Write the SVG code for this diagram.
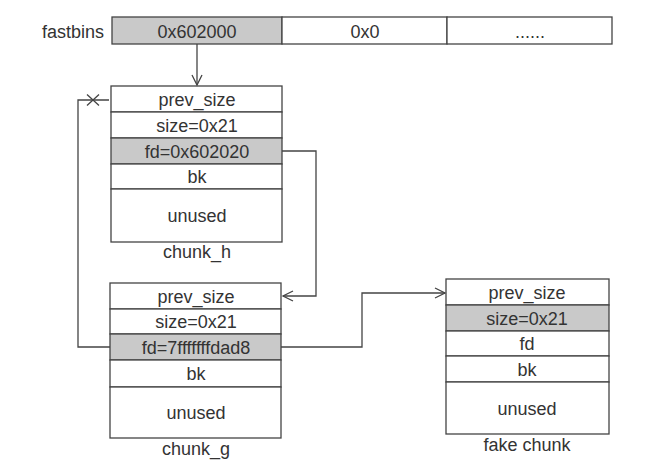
<svg xmlns="http://www.w3.org/2000/svg" width="666" height="462" viewBox="0 0 666 462">
<defs>
<marker id="arr" markerUnits="userSpaceOnUse" markerWidth="14" markerHeight="12" refX="11" refY="6" orient="auto">
<path d="M1,1 L11,6 L1,11" fill="none" stroke="#444" stroke-width="1.3"/>
</marker>
</defs>
<style>
.c{fill:#fff;stroke:#444;stroke-width:1.3}
.s{fill:#c9c9c9;stroke:#444;stroke-width:1.3}
text{font-family:"Liberation Sans",Arial,sans-serif;font-size:18px;fill:#333;text-anchor:middle}
.l{fill:none;stroke:#444;stroke-width:1.3}
</style>
<rect width="666" height="462" fill="#fff"/>
<g id="fastbins">
<text x="104" y="38" style="text-anchor:end">fastbins</text>
<rect class="s" x="112" y="17" width="170" height="27"/>
<rect class="c" x="282" y="17" width="165" height="27"/>
<rect class="c" x="447" y="17" width="165" height="27"/>
<text x="197" y="38">0x602000</text>
<text x="365" y="38">0x0</text>
<text x="530" y="38">......</text>
</g>
<g id="chunk_h">
<rect class="c" x="111" y="86" width="171" height="26"/>
<rect class="c" x="111" y="112" width="171" height="26"/>
<rect class="s" x="111" y="138" width="171" height="26"/>
<rect class="c" x="111" y="164" width="171" height="25"/>
<rect class="c" x="111" y="189" width="171" height="53"/>
<text x="197" y="105.5">prev_size</text>
<text x="197" y="131.5">size=0x21</text>
<text x="197" y="157.5">fd=0x602020</text>
<text x="197" y="183">bk</text>
<text x="197" y="222">unused</text>
<text x="197" y="258">chunk_h</text>
</g>
<g id="chunk_g">
<rect class="c" x="110" y="283" width="171" height="26"/>
<rect class="c" x="110" y="309" width="171" height="25"/>
<rect class="s" x="110" y="334" width="171" height="26"/>
<rect class="c" x="110" y="360" width="171" height="27"/>
<rect class="c" x="110" y="387" width="171" height="51"/>
<text x="196" y="302.5">prev_size</text>
<text x="196" y="328">size=0x21</text>
<text x="196" y="353.5">fd=7fffffffdad8</text>
<text x="196" y="380">bk</text>
<text x="196" y="419">unused</text>
<text x="196" y="455">chunk_g</text>
</g>
<g id="fake_chunk">
<rect class="c" x="446" y="279" width="163" height="26"/>
<rect class="s" x="446" y="305" width="163" height="26"/>
<rect class="c" x="446" y="331" width="163" height="25"/>
<rect class="c" x="446" y="356" width="163" height="26"/>
<rect class="c" x="446" y="382" width="163" height="52"/>
<text x="527" y="298.5">prev_size</text>
<text x="527" y="324.5">size=0x21</text>
<text x="527" y="350">fd</text>
<text x="527" y="375.5">bk</text>
<text x="527" y="414.5">unused</text>
<text x="527" y="451">fake chunk</text>
</g>
<g id="connectors">
<path class="l" d="M197,44 V85" marker-end="url(#arr)"/>
<path class="l" d="M282,151 H316 V296 H283" marker-end="url(#arr)"/>
<path class="l" d="M110,347 H78 V100 H109"/>
<path class="l" d="M87,94.5 L99,105.5 M99,94.5 L87,105.5"/>
<path class="l" d="M281,347 H362 V293 H445" marker-end="url(#arr)"/>
</g>
</svg>
